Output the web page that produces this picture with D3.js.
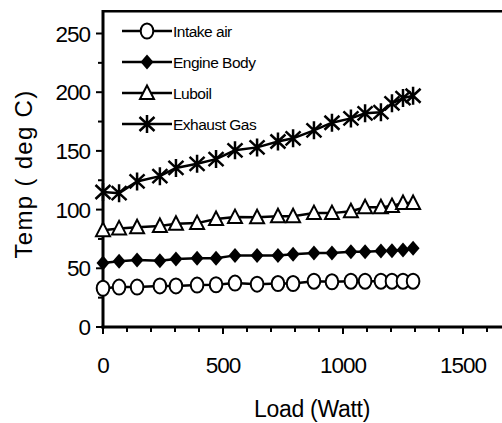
<!DOCTYPE html>
<html>
<head>
<meta charset="utf-8">
<script src="https://cdn.jsdelivr.net/npm/d3@7"></script>
<style>
  body { margin: 0; background: #fff; overflow: hidden; }
  svg { display: block; }
  text { font-family: "Liberation Sans", Arial, sans-serif; fill: #000; }
</style>
</head>
<body>
<div id="chart"></div>
<script>
// values
const loads = [0, 67, 142, 237, 304, 392, 471, 550, 642, 729, 792, 879, 954, 1033, 1092, 1158, 1204, 1250, 1292];
const intakeAir = [33, 34, 34, 35, 35, 35.7, 36, 37.4, 36.5, 37, 37, 39, 38.5, 39, 39, 39, 39, 39, 39];
const engineBody = [54.6, 56, 57, 56.5, 58, 58.5, 58.5, 61, 61, 61, 62, 63, 63, 64, 64, 64.8, 65, 65.5, 67];
const luboil = [82.5, 84, 85, 86, 88, 88.5, 92, 93.6, 93.5, 94.4, 94.4, 97, 97, 98.6, 102, 102, 103, 105.6, 105.6];
const exhaustGas = [115, 114, 124, 128.5, 135.5, 139, 143, 150.5, 153, 158, 160.7, 167.5, 174, 177.7, 182, 183, 190.5, 195, 197];

const seriesNames = ["Intake air", "Engine Body", "Luboil", "Exhaust Gas"];
const seriesMarkers = ["circle", "diamond", "triangle", "asterisk"];
const xMajorTicks = [0, 500, 1000, 1500];
const yMajorTicks = [0, 50, 100, 150, 200, 250];

const W = 502, H = 423;

const svg = d3.select("#chart").append("svg")
    .attr("width", W)
    .attr("height", H);

const x = d3.scaleLinear().domain([0, 1700]).range([103, 511]);
const y = d3.scaleLinear().domain([0, 250]).range([327, 33.5]);
const yTop = 269;

// top border of the frame (right side is cut off by the picture edge)
svg.append("line")
    .attr("x1", x(0)).attr("x2", W)
    .attr("y1", y(yTop)).attr("y2", y(yTop))
    .attr("stroke", "#000")
    .attr("stroke-width", 2.5);

// x axis
const xAxis = svg.append("g").attr("transform", `translate(0,${y(0)})`);
xAxis.append("line")
    .attr("x1", x(0) - 1.5).attr("x2", W)
    .attr("stroke", "#000").attr("stroke-width", 3);
xAxis.selectAll("line.tick")
    .data(d3.range(0, 1601, 100))
    .join("line")
    .attr("class", "tick")
    .attr("x1", d => x(d)).attr("x2", d => x(d))
    .attr("y1", 0).attr("y2", d => d % 500 === 0 ? 7 : 5)
    .attr("stroke", "#000").attr("stroke-width", 2);
xAxis.selectAll("text")
    .data(xMajorTicks)
    .join("text")
    .attr("x", d => x(d))
    .attr("y", 46)
    .attr("text-anchor", "middle")
    .attr("font-size", 22.5)
    .attr("letter-spacing", -1)
    .text(d => d);

// y axis
const yAxis = svg.append("g").attr("transform", `translate(${x(0)},0)`);
yAxis.append("line")
    .attr("y1", y(0) + 1.5).attr("y2", y(yTop) - 1.2)
    .attr("stroke", "#000").attr("stroke-width", 3);
yAxis.selectAll("line.tick")
    .data(d3.range(0, 251, 25))
    .join("line")
    .attr("class", "tick")
    .attr("y1", d => y(d)).attr("y2", d => y(d))
    .attr("x1", 0).attr("x2", d => d % 50 === 0 ? -7 : -5)
    .attr("stroke", "#000").attr("stroke-width", 2);
yAxis.selectAll("text")
    .data(yMajorTicks)
    .join("text")
    .attr("x", -13)
    .attr("y", d => y(d))
    .attr("dy", "0.36em")
    .attr("text-anchor", "end")
    .attr("font-size", 22.5)
    .attr("letter-spacing", -1)
    .text(d => d);

// axis titles
svg.append("text")
    .attr("x", 312)
    .attr("y", 417)
    .attr("text-anchor", "middle")
    .attr("font-size", 23)
    .attr("letter-spacing", -0.3)
    .text("Load (Watt)");

svg.append("text")
    .attr("transform", `translate(32,174) rotate(-90)`)
    .attr("text-anchor", "middle")
    .attr("font-size", 24)
    .attr("letter-spacing", 1.3)
    .text("Temp ( deg C)");

// markers
function drawMarker(g, type) {
    if (type === "circle") {
        g.append("ellipse").attr("rx", 6.3).attr("ry", 7.5)
            .attr("fill", "#fff").attr("stroke", "#000").attr("stroke-width", 2);
    } else if (type === "diamond") {
        g.append("path").attr("d", "M0,-7.5 L6.5,0 L0,7.5 L-6.5,0 Z")
            .attr("fill", "#000");
    } else if (type === "triangle") {
        g.append("path").attr("d", "M0,-7.5 L7,6 L-7,6 Z")
            .attr("fill", "#fff").attr("stroke", "#000").attr("stroke-width", 2)
            .attr("stroke-linejoin", "miter");
    } else {
        g.append("path").attr("d", "M0,-9 V9 M-7.5,-7 L7.5,7 M-7.5,7 L7.5,-7")
            .attr("fill", "none").attr("stroke", "#000").attr("stroke-width", 2.5);
    }
}

const allSeries = [intakeAir, engineBody, luboil, exhaustGas];

const line = d3.line()
    .x((d, i) => x(loads[i]))
    .y(d => y(d));

allSeries.forEach((vals, s) => {
    svg.append("path")
        .datum(vals)
        .attr("fill", "none")
        .attr("stroke", "#000")
        .attr("stroke-width", 2.5)
        .attr("d", line);
    vals.forEach((v, i) => {
        const g = svg.append("g").attr("transform", `translate(${x(loads[i])},${y(v)})`);
        drawMarker(g, seriesMarkers[s]);
    });
});

// legend
const legend = svg.append("g");
seriesNames.forEach((name, i) => {
    const ly = 31 + i * 31;
    legend.append("line")
        .attr("x1", 122).attr("x2", 172)
        .attr("y1", ly).attr("y2", ly)
        .attr("stroke", "#000").attr("stroke-width", 2.5);
    const g = legend.append("g").attr("transform", `translate(147,${ly})`);
    drawMarker(g, seriesMarkers[i]);
    legend.append("text")
        .attr("x", 173)
        .attr("y", ly)
        .attr("dy", "0.36em")
        .attr("font-size", 15.5)
        .attr("letter-spacing", -0.5)
        .text(name);
});
</script>
</body>
</html>
